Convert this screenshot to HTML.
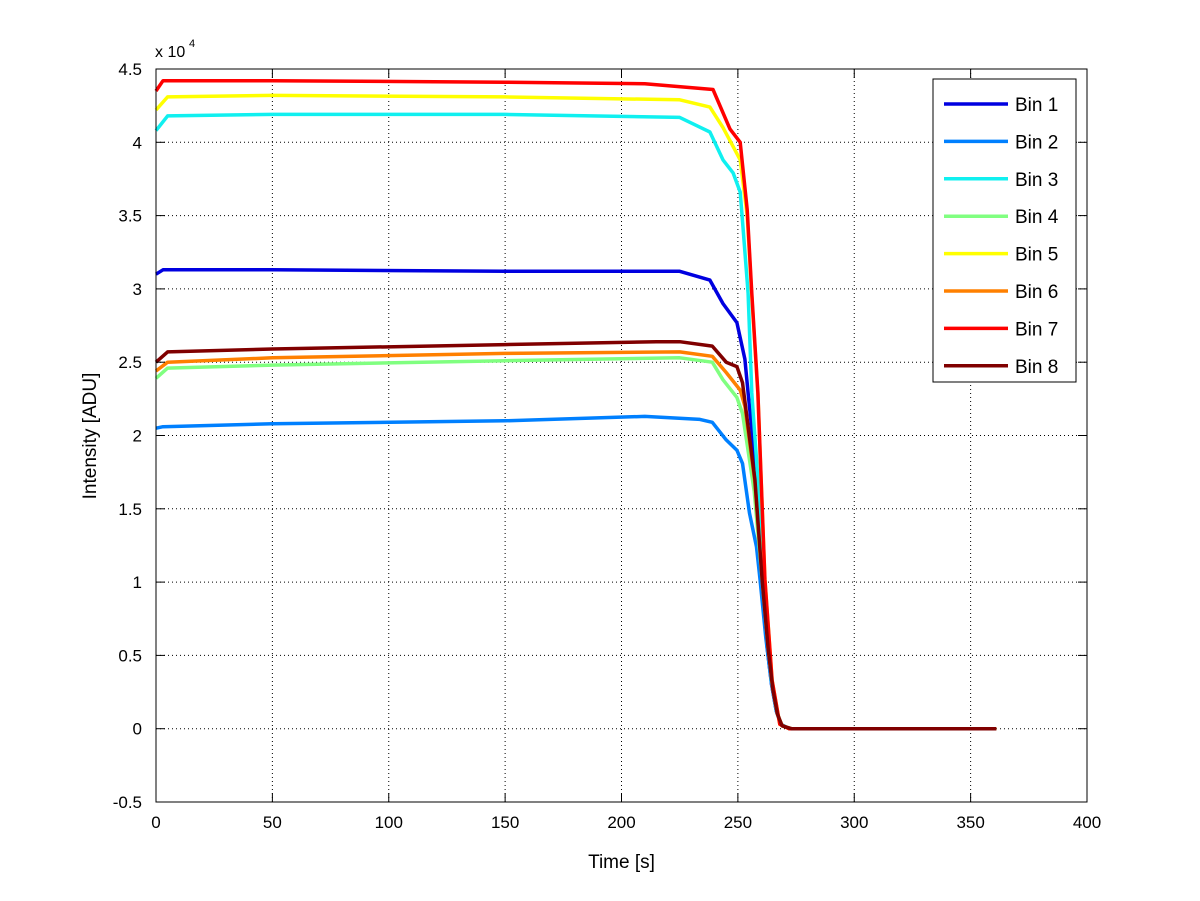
<!DOCTYPE html>
<html><head><meta charset="utf-8">
<style>
html,body{margin:0;padding:0;background:#fff;}
svg{display:block;font-family:"Liberation Sans",Arial,sans-serif;}
</style></head>
<body>
<svg id="chart" width="1200" height="901" viewBox="0 0 1200 901" xmlns="http://www.w3.org/2000/svg">
<rect width="1200" height="901" fill="#fff"/>
<g id="grid"></g>
<g id="series"></g>
<g id="axes"></g>
<g id="legend"></g>
</svg>
<script>
const xTicks=[0,50,100,150,200,250,300,350,400];
const yTicks=[-0.5,0,0.5,1,1.5,2,2.5,3,3.5,4,4.5];
const yTickLabels=["-0.5","0","0.5","1","1.5","2","2.5","3","3.5","4","4.5"];
const seriesNames=["Bin 1","Bin 2","Bin 3","Bin 4","Bin 5","Bin 6","Bin 7","Bin 8"];
const seriesColors=["#0000e0","#0080ff","#10f0f0","#80ff80","#ffff00","#ff8000","#ff0000","#800000"];
// times (s) and values (x10^4 ADU) per series
const bin1T=[0,3,50,150,225,238,243.6,249.6,253,254.4,258.6,262.5,264.5,266.5,268.5,272,361];
const bin1V=[3.10,3.13,3.13,3.12,3.12,3.06,2.90,2.77,2.52,2.29,1.63,0.56,0.30,0.12,0.03,0,0];
const bin2T=[0,3,50,150,210,233.7,239,245,249.6,252,255,258,259.5,262,264.5,266.5,268.5,272,361];
const bin2V=[2.05,2.06,2.08,2.10,2.13,2.11,2.09,1.97,1.90,1.81,1.47,1.24,1.02,0.62,0.30,0.12,0.03,0,0];
const bin3T=[0,5,50,150,225,238,243.6,248,251,252.2,254.4,256,259.5,262,264.5,266.5,268.5,272,361];
const bin3V=[4.08,4.18,4.19,4.19,4.17,4.07,3.88,3.79,3.66,3.42,2.97,2.29,1.50,0.72,0.32,0.13,0.03,0,0];
const bin4T=[0,5,50,150,225,239,243.6,249.6,252,257,260.5,263,265,267,269,273,361];
const bin4V=[2.39,2.46,2.48,2.51,2.53,2.50,2.38,2.26,2.15,1.62,1.00,0.55,0.27,0.10,0.02,0,0];
const bin5T=[0,5,50,150,225,238,243.6,248,251,254,256,258.6,261.6,264.7,268,272,361];
const bin5V=[4.22,4.31,4.32,4.31,4.29,4.24,4.10,3.97,3.88,3.50,2.95,2.28,1.02,0.33,0.03,0,0];
const bin6T=[0,5,50,150,225,239,245,251,253,257.3,260.5,263,265,267,269,273,361];
const bin6V=[2.44,2.50,2.53,2.56,2.57,2.54,2.43,2.31,2.20,1.68,1.01,0.55,0.27,0.10,0.02,0,0];
const bin7T=[0,3,50,150,210,239.3,246.6,251,254,256,258.6,261.6,264.7,268,272,361];
const bin7V=[4.35,4.42,4.42,4.41,4.40,4.36,4.09,4.00,3.54,2.97,2.29,1.02,0.33,0.03,0,0];
const bin8T=[0,5,50,150,215,225,239,245,249.6,252,257.3,260.4,263,265,267,269,273,361];
const bin8V=[2.50,2.57,2.59,2.62,2.64,2.64,2.61,2.50,2.47,2.36,1.70,1.02,0.55,0.27,0.10,0.02,0,0];
const allT=[bin1T,bin2T,bin3T,bin4T,bin5T,bin6T,bin7T,bin8T];
const allV=[bin1V,bin2V,bin3V,bin4V,bin5V,bin6V,bin7V,bin8V];

const NS="http://www.w3.org/2000/svg";
const X0=156,X1=1087,Y0=802,Y1=69,xMin=0,xMax=400,yMin=-0.5,yMax=4.5;
function sx(v){return X0+(v-xMin)/(xMax-xMin)*(X1-X0);}
function sy(v){return Y0-(v-yMin)/(yMax-yMin)*(Y0-Y1);}
function mk(tag,attrs,parent){const e=document.createElementNS(NS,tag);for(const k in attrs)e.setAttribute(k,attrs[k]);parent.appendChild(e);return e;}
const grid=document.getElementById('grid'),axes=document.getElementById('axes'),ser=document.getElementById('series'),leg=document.getElementById('legend');

xTicks.forEach((t,i)=>{
  const x=sx(t);
  if(i>0&&i<xTicks.length-1){const g=mk('line',{x1:x,y1:Y1,x2:x,y2:Y0,stroke:'#000','stroke-width':1,'stroke-dasharray':'1,3'},grid);
  
  }
  mk('line',{x1:x,y1:Y0,x2:x,y2:Y0-9,stroke:'#000'},axes);
  mk('line',{x1:x,y1:Y1,x2:x,y2:Y1+9,stroke:'#000'},axes);
  const tx=mk('text',{x:x,y:Y0+26,'font-size':17,'text-anchor':'middle',fill:'#000'},axes);
  tx.textContent=t;
  
  
});
yTicks.forEach((t,i)=>{
  const y=sy(t);
  if(i>0&&i<yTicks.length-1){const g=mk('line',{x1:X0,y1:y,x2:X1,y2:y,stroke:'#000','stroke-width':1,'stroke-dasharray':'1,3'},grid);
  
  }
  mk('line',{x1:X0,y1:y,x2:X0+9,y2:y,stroke:'#000'},axes);
  mk('line',{x1:X1,y1:y,x2:X1-9,y2:y,stroke:'#000'},axes);
  const tx=mk('text',{x:X0-14,y:y+6,'font-size':17,'text-anchor':'end',fill:'#000'},axes);
  tx.textContent=yTickLabels[i];
  
  
});
const box=mk('rect',{x:X0,y:Y1,width:X1-X0,height:Y0-Y1,fill:'none',stroke:'#000','stroke-width':1},axes);


const ex=mk('text',{x:155,y:57,'font-size':16,fill:'#000'},axes);
ex.textContent='x 10';


const ex2=mk('text',{x:189,y:47,'font-size':11,fill:'#000'},axes);
ex2.textContent='4';


const xt=mk('text',{x:(X0+X1)/2,y:868,'font-size':19,'text-anchor':'middle',fill:'#000'},axes);
xt.textContent='Time [s]';


const yt=mk('text',{x:0,y:0,'font-size':19,'text-anchor':'middle',fill:'#000',transform:'translate(96,436) rotate(-90)'},axes);
yt.textContent='Intensity [ADU]';



allT.forEach((T,i)=>{
  const pts=T.map((t,j)=>sx(t).toFixed(1)+','+sy(allV[i][j]).toFixed(1)).join(' ');
  const p=mk('polyline',{points:pts,fill:'none',stroke:seriesColors[i],'stroke-width':3.5,'stroke-linejoin':'round'},ser);
  
  
});

const lb=mk('rect',{x:933,y:79,width:143,height:303,fill:'#fff',stroke:'#000','stroke-width':1},leg);


seriesNames.forEach((n,i)=>{
  const y=104+i*37.4;
  const g=mk('g',{},leg);
  
  
  mk('line',{x1:944,y1:y,x2:1008,y2:y,stroke:seriesColors[i],'stroke-width':3.5},g);
  const t=mk('text',{x:1015,y:y+7,'font-size':19,fill:'#000'},g);
  t.textContent=n;
});
</script>
</body></html>
